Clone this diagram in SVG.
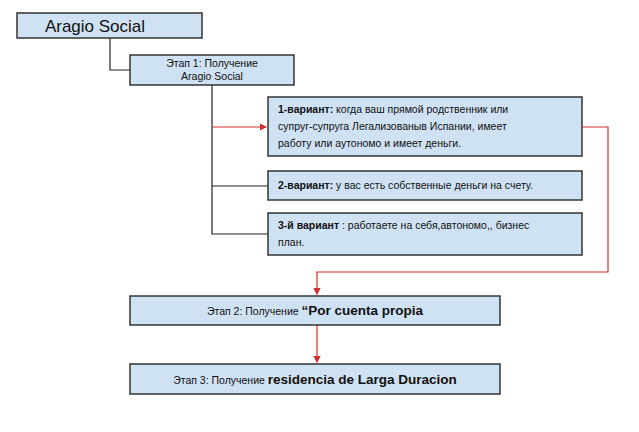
<svg xmlns="http://www.w3.org/2000/svg" width="639" height="432" viewBox="0 0 639 432">
<style>
.b{fill:#cfe2f3;stroke:#333;stroke-width:1.5}
.t{font-family:"Liberation Sans",Arial,sans-serif;fill:#111}
.k{stroke:#222;stroke-width:1.2;fill:none}
.r{stroke:#d32f2f;stroke-width:1.2;fill:none}
</style>
<defs><marker id="a" markerWidth="6" markerHeight="6" refX="5" refY="3" orient="auto"><path d="M0,0L6,3L0,6z" fill="#d32f2f"/></marker></defs>
<rect width="639" height="432" fill="#fff"/>
<g id="connectors">
<path class="k" d="M110,38V70H130"/>
<path class="k" d="M212,85V234H268M212,186H268"/>
<path class="r" d="M212,127H266" marker-end="url(#a)"/>
<path class="r" d="M582,127H608V272H317V294" marker-end="url(#a)"/>
<path class="r" d="M317,325V362" marker-end="url(#a)"/>
</g>
<g id="n0"><rect class="b" x="17" y="13" width="185" height="25"/><text class="t" x="95" y="32" font-size="17" text-anchor="middle">Aragio Social</text></g>
<g id="n1"><rect class="b" x="130" y="55" width="164" height="30"/><text class="t" font-size="10.5" text-anchor="middle"><tspan x="212" y="67">Этап 1: Получение</tspan><tspan x="212" y="80">Aragio Social</tspan></text></g>
<g id="n2"><rect class="b" x="268" y="97" width="314" height="59"/><text class="t" font-size="10.5"><tspan x="278" y="113"><tspan font-weight="bold">1-вариант:</tspan>  когда ваш прямой  родственник или</tspan><tspan x="278" y="130">супруг-супруга Легализованыв Испании, имеет</tspan><tspan x="278" y="147">работу или аутономо и имеет деньги.</tspan></text></g>
<g id="n3"><rect class="b" x="268" y="171" width="314" height="29"/><text class="t" font-size="10.5" x="278" y="189"><tspan font-weight="bold">2-вариант:</tspan> у вас есть собственные деньги на счету.</text></g>
<g id="n4"><rect class="b" x="268" y="213" width="314" height="42"/><text class="t" font-size="10.5"><tspan x="278" y="229"><tspan font-weight="bold">3-й вариант</tspan> : работаете на себя,автономо,, бизнес</tspan><tspan x="278" y="246">план.</tspan></text></g>
<g id="n5"><rect class="b" x="130" y="296" width="370" height="29"/><text class="t" x="315" y="315" text-anchor="middle"><tspan font-size="10.5">Этап 2: Получение </tspan><tspan font-size="13.5" font-weight="bold">“Por cuenta propia</tspan></text></g>
<g id="n6"><rect class="b" x="130" y="364" width="370" height="30"/><text class="t" x="315" y="384" text-anchor="middle"><tspan font-size="10.5">Этап 3: Получение </tspan><tspan font-size="13.5" font-weight="bold">residencia de Larga Duracion</tspan></text></g>
</svg>
